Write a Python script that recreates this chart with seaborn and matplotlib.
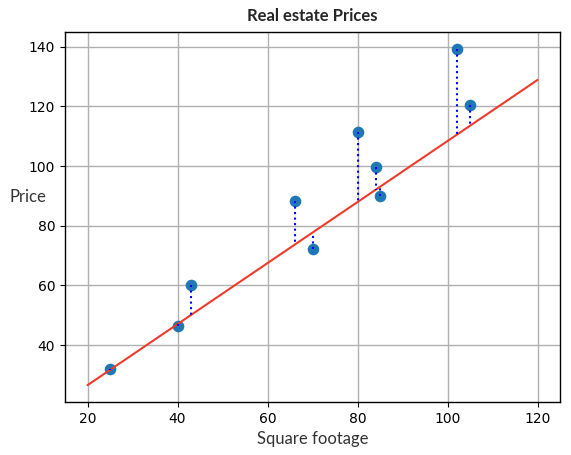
import matplotlib
matplotlib.use("Agg")
import numpy as np
import pandas as pd
import matplotlib.pyplot as plt
import seaborn as sns

# Data
square_footage = [25, 40, 43, 66, 70, 80, 84, 85, 102, 105]
price = [32, 46.4, 60, 88.3, 72.2, 111.4, 99.6, 90, 139.3, 120.5]

# Hypothesis line parameters
intercept = 6.1
slope = 1.023
line_x = [20, 120]

df = pd.DataFrame({"sqft": square_footage, "price": price})
df["pred"] = intercept + slope * df["sqft"]
line_df = pd.DataFrame({"sqft": line_x})
line_df["pred"] = intercept + slope * line_df["sqft"]

sns.set_style("white")
plt.rcParams['font.family'] = ['DejaVu Sans']
plt.rcParams['font.sans-serif'] = ['DejaVu Sans']

fig = plt.figure(figsize=(5.71, 4.55), dpi=100)
ax = fig.add_axes([65 / 571, 1 - 402 / 455, 495 / 571, 370 / 455])

sns.scatterplot(data=df, x="sqft", y="price", ax=ax, color="#1f77b4",
                s=70, linewidth=0, zorder=3)
sns.lineplot(data=line_df, x="sqft", y="pred", ax=ax, color="#ee3b2b",
             linewidth=1.5, zorder=4)

# Residual lines from each point to the line
for _, r in df.iterrows():
    ax.plot([r["sqft"], r["sqft"]], [r["price"], r["pred"]], color="blue",
            linestyle=":", linewidth=1.5, zorder=5)

ax.grid(True, color="#b0b0b0", linewidth=1)
ax.set_axisbelow(True)
for s in ax.spines.values():
    s.set_color("black")
    s.set_linewidth(1)
ax.tick_params(axis="both", which="major", labelsize=10, length=3.5,
               width=0.8, direction="out", left=True, bottom=True,
               colors="black")

ax.set_xticks([20, 40, 60, 80, 100, 120])
ax.set_yticks([40, 60, 80, 100, 120, 140])
for lbl in ax.get_xticklabels() + ax.get_yticklabels():
    lbl.set_fontfamily("DejaVu Sans")

ax.set_title("Real estate Prices", fontweight="bold", fontsize=12,
             family="Lato", pad=8)
ax.set_xlabel("Square footage", fontsize=12, family="Lato", color="#333333")
ax.set_ylabel("Price", fontsize=12, family="Lato", rotation=0,
              color="#333333", ha="center", va="center")
ax.yaxis.set_label_coords(-0.075, 0.554)

fig.savefig("out.png", dpi=100)
